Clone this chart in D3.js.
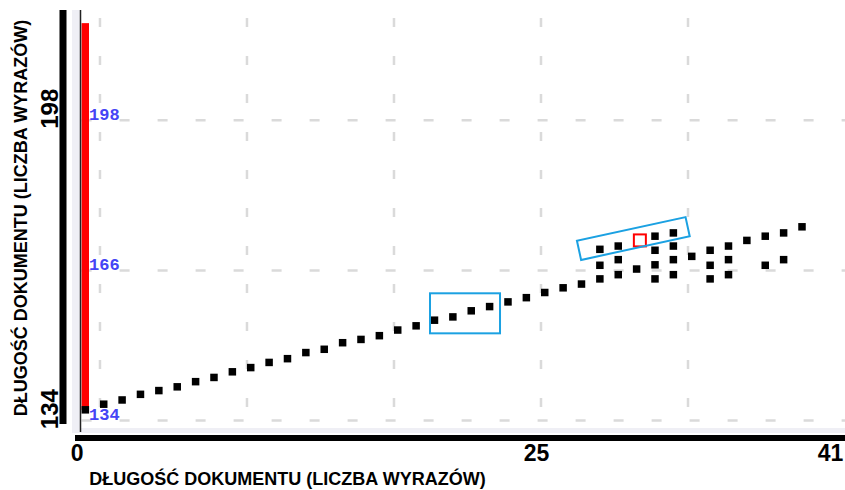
<!DOCTYPE html>
<html>
<head>
<meta charset="utf-8">
<script src="https://cdn.jsdelivr.net/npm/d3@7"></script>
<style>
  body { margin: 0; background: #fff; }
  svg { display: block; }
</style>
</head>
<body>
<svg></svg>
<script>
let width = 845,
    height = 490;

// document index (x) and document length (y) for every point
const pointX = [0, 1, 2, 3, 4, 5, 6, 7, 8, 9, 10, 11, 12, 13, 14, 15, 16, 17, 18, 19,
    20, 21, 22, 23, 24, 25, 26, 27,
    28, 28, 28, 29, 29, 29, 30, 31, 31, 31, 31, 32, 32, 32, 32, 33,
    34, 34, 34, 35, 35, 35, 36, 37, 37, 38, 38, 39];
const pointY = [136.3, 137.5, 138.4, 139.6, 140.4, 141.2, 142.3, 143.2, 144.4, 145.3,
    146.4, 147.2, 148.5, 149.2, 150.6, 151.3, 152.1, 153.3, 154.2, 155.4,
    156.1, 157.4, 158.3, 159.3, 160.2, 161.3, 162.3, 163.1,
    170.5, 167.1, 164.2, 171.2, 168.3, 165.1, 166.3, 173.3, 170.3, 167.2, 164.2,
    174.0, 171.2, 168.3, 165.1, 169.0,
    170.3, 167.1, 164.2, 171.2, 168.3, 165.1, 172.4, 173.3, 167.1, 174.0, 168.3, 175.3];

// red range bar at x = 0
const rangeBar = [136.3, 218.7];
// highlighted point
const highlight = [30, 172.4];

const xTicks = [0, 25, 41];
const yTicks = [134, 198];
const xGrid = [1, 9, 17, 25, 33];
const yGrid = [134, 166, 198];

// annotation boxes (data units)
const boxRect = [18.96, 152.6, 22.77, 161.13];
const boxTilted = [27.07, 170.28, 32.98, 175.32];

const axisTitle = 'DŁUGOŚĆ DOKUMENTU (LICZBA WYRAZÓW)';

let x = d3.scaleLinear().domain([0, 41]).range([81.6, 835]);
let y = d3.scaleLinear().domain([132, 221.5]).range([430, 10]);

let svg = d3.select('svg')
    .attr('width', width)
    .attr('height', height);

// plot frame (light strips)
svg.append('rect')
    .attr('x', 72).attr('y', 10)
    .attr('width', width - 72).attr('height', 423)
    .attr('fill', '#efeff5');
svg.append('rect')
    .attr('x', 81).attr('y', 10)
    .attr('width', width - 81).attr('height', 418)
    .attr('fill', '#fff');

// grid
let grid = svg.append('g');
grid.selectAll('line.h')
    .data(yGrid)
    .enter().append('line')
    .attr('class', 'h')
    .attr('x1', x(0)).attr('x2', width)
    .attr('y1', d => y(d)).attr('y2', d => y(d))
    .attr('stroke', '#dadada')
    .attr('stroke-width', 2.5)
    .attr('stroke-dasharray', '10,28');
grid.selectAll('line.v')
    .data(xGrid)
    .enter().append('line')
    .attr('class', 'v')
    .attr('x1', d => x(d)).attr('x2', d => x(d))
    .attr('y1', 18).attr('y2', 428)
    .attr('stroke', '#dadada')
    .attr('stroke-width', 2.5)
    .attr('stroke-dasharray', '9,29');

// red bar
svg.append('rect')
    .attr('x', x(0))
    .attr('y', y(rangeBar[1]))
    .attr('width', 7.4)
    .attr('height', y(rangeBar[0]) - y(rangeBar[1]))
    .attr('fill', '#ff0000');

// blue value labels
svg.append('g').selectAll('text')
    .data(yGrid)
    .enter().append('text')
    .attr('x', x(0) + 7.5)
    .attr('y', d => y(d) - 0.5)
    .attr('fill', '#4545f5')
    .style('font-family', '"Liberation Mono", monospace')
    .style('font-weight', 'bold')
    .style('font-size', '17px')
    .text(d => d);

// points
svg.append('g').selectAll('rect')
    .data(pointX.map((d, i) => [d, pointY[i]]))
    .enter().append('rect')
    .attr('x', d => x(d[0]))
    .attr('y', d => y(d[1]) - 3.75)
    .attr('width', 7.5)
    .attr('height', 7.5)
    .attr('fill', '#000');

// highlighted point
svg.append('rect')
    .attr('x', x(highlight[0]) + 1)
    .attr('y', y(highlight[1]) - 6)
    .attr('width', 12)
    .attr('height', 12)
    .attr('fill', 'none')
    .attr('stroke', '#ff0000')
    .attr('stroke-width', 2);

// annotation boxes
svg.append('rect')
    .attr('x', x(boxRect[0]))
    .attr('y', y(boxRect[3]))
    .attr('width', x(boxRect[2]) - x(boxRect[0]))
    .attr('height', y(boxRect[1]) - y(boxRect[3]))
    .attr('fill', 'none')
    .attr('stroke', '#1ba1e2')
    .attr('stroke-width', 2);

let p1 = [x(boxTilted[0]), y(boxTilted[1])],
    p2 = [x(boxTilted[2]), y(boxTilted[3])];
let len = Math.hypot(p2[0] - p1[0], p2[1] - p1[1]),
    ang = Math.atan2(p2[1] - p1[1], p2[0] - p1[0]) * 180 / Math.PI;
svg.append('rect')
    .attr('x', 0).attr('y', -9.8)
    .attr('width', len).attr('height', 19.6)
    .attr('transform', `translate(${p1[0]},${p1[1]}) rotate(${ang})`)
    .attr('fill', 'none')
    .attr('stroke', '#1ba1e2')
    .attr('stroke-width', 2);

// thin axis line
svg.append('line')
    .attr('x1', 80.5).attr('x2', 80.5)
    .attr('y1', 10).attr('y2', 432)
    .attr('stroke', '#222')
    .attr('stroke-width', 1.5);

// thick outer axis bars
svg.append('rect')
    .attr('x', 59.5).attr('y', 10)
    .attr('width', 7).attr('height', 414)
    .attr('fill', '#000');
svg.append('rect')
    .attr('x', 75).attr('y', 435)
    .attr('width', width - 75).attr('height', 6)
    .attr('fill', '#000');

// outer axes (labels only)
let xAxis = svg.append('g')
    .attr('transform', 'translate(0,441)')
    .call(d3.axisBottom(x).tickValues(xTicks).tickSize(0).tickPadding(4));
xAxis.select('.domain').remove();
xAxis.selectAll('text')
    .attr('dx', -5)
    .attr('fill', '#000')
    .style('font-family', '"Liberation Sans", Arial, sans-serif')
    .style('font-weight', 'bold')
    .style('font-size', '23px');

let yAxis = svg.append('g')
    .call(d3.axisLeft(y).tickValues(yTicks).tickSize(0));
yAxis.select('.domain').remove();
yAxis.selectAll('text')
    .attr('x', 0).attr('y', 0).attr('dy', 0)
    .attr('text-anchor', 'middle')
    .attr('transform', 'translate(57.5,-12) rotate(-90)')
    .attr('fill', '#000')
    .style('font-family', '"Liberation Sans", Arial, sans-serif')
    .style('font-weight', 'bold')
    .style('font-size', '24px');

// axis titles
svg.append('text')
    .attr('x', 287.5).attr('y', 485)
    .attr('text-anchor', 'middle')
    .style('font-family', '"Liberation Sans", Arial, sans-serif')
    .style('font-weight', 'bold')
    .style('font-size', '18px')
    .text(axisTitle);

svg.append('text')
    .attr('transform', 'translate(27,218) rotate(-90)')
    .attr('text-anchor', 'middle')
    .style('font-family', '"Liberation Sans", Arial, sans-serif')
    .style('font-weight', 'bold')
    .style('font-size', '18px')
    .text(axisTitle);
</script>
</body>
</html>
